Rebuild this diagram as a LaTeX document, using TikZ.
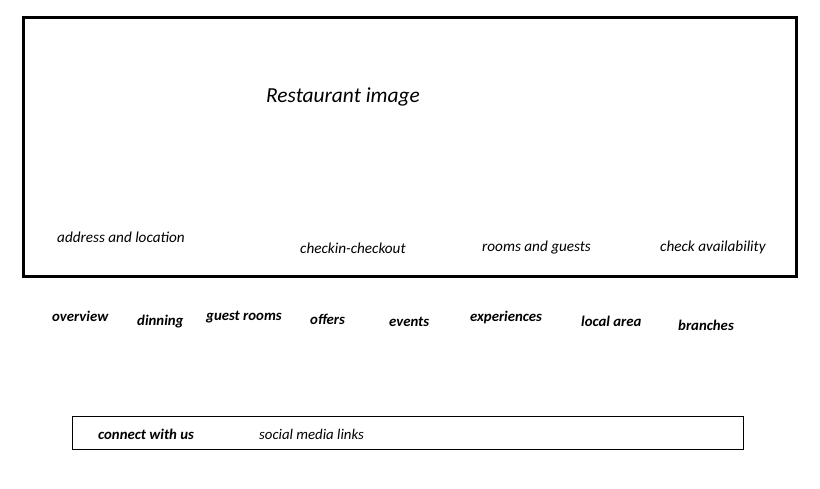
\documentclass[tikz,border=0pt]{standalone}
\usepackage{fontspec}
\setmainfont{Carlito}
\usepackage{tikz}
\usetikzlibrary{positioning}

\tikzset{
    frame/.style={draw, line width=3pt},
    footbox/.style={draw, line width=1pt},
    hint/.style={anchor=west, inner sep=0pt, font=\fontsize{15.2}{17}\selectfont\itshape},
    menu/.style={anchor=west, inner sep=0pt, font=\fontsize{14.8}{17}\selectfont\bfseries\itshape},
    foot/.style={anchor=west, inner sep=0pt, font=\fontsize{14.8}{17}\selectfont\itshape}
}

\begin{document}
\begin{tikzpicture}[x=1pt, y=-1pt]
    \useasboundingbox (0,0) rectangle (820,488);

    % Bandeau image
    \draw[frame] (23,17) rectangle (796,276);
    \node[anchor=west, inner sep=0pt, font=\fontsize{21.4}{25}\selectfont\itshape] (image) at (266,97) {Restaurant image};

    % Champs de réservation
    \node[hint] (address) at (57,237) {address and location};
    \node[hint] (checkin) at (300,248) {checkin-checkout};
    \node[hint] (rooms) at (482,248) {rooms and guests};
    \node[hint] (avail) at (660,247) {check availability};

    % Menu
    \node[menu] (overview) at (52,316) {overview};
    \node[menu] (dinning) at (137,322) {dinning};
    \node[menu] (guest) at (206,317) {guest rooms};
    \node[menu] (offers) at (310,319) {offers};
    \node[menu] (events) at (389,322) {events};
    \node[menu] (exper) at (470,317) {experiences};
    \node[menu] (local) at (581,321) {local area};
    \node[menu] (branch) at (678,325) {branches};

    % Pied de page
    \draw[footbox] (72,416) rectangle (743,449);
    \node[foot, font=\fontsize{14.8}{17}\selectfont\bfseries\itshape] (connect) at (98,434) {connect with us};
    \node[foot] (social) at (259,434) {social media links};

\end{tikzpicture}
\end{document}
